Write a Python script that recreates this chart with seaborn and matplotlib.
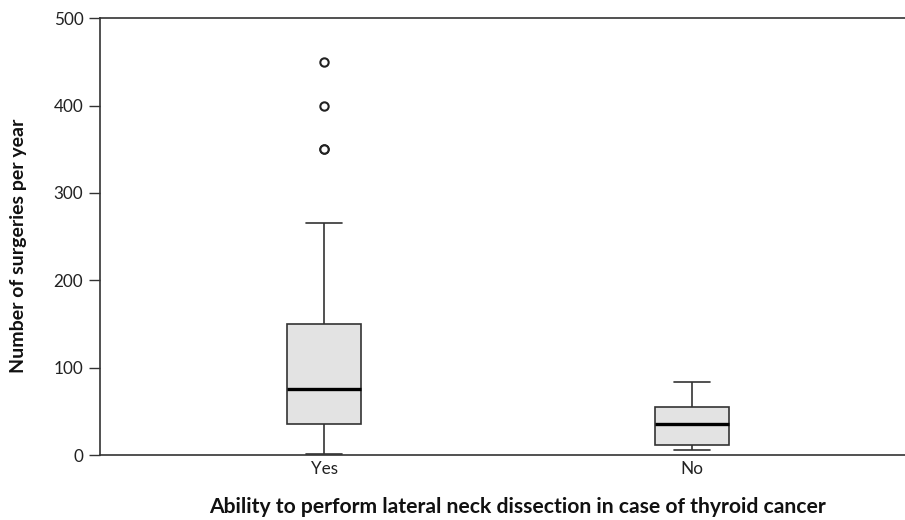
import matplotlib
matplotlib.use("Agg")
import matplotlib.pyplot as plt
import seaborn as sns
import pandas as pd

# Values chosen so that the box statistics match the reference figure
categories = ["Yes", "No"]
yes_values = [1, 8, 15, 22, 30, 35, 45, 50, 60, 70, 75, 80, 90, 100, 120, 150,
              265, 350, 350, 400, 450]
no_values = [6, 8, 12, 20, 35, 45, 55, 70, 84]
y_ticks = [0, 100, 200, 300, 400, 500]

df = pd.DataFrame({
    "group": ["Yes"] * len(yes_values) + ["No"] * len(no_values),
    "value": yes_values + no_values,
})

sns.set_style("ticks")
plt.rcParams["font.family"] = ["Lato", "DejaVu Sans"]

fig = plt.figure(figsize=(9.05, 5.2), dpi=100)
ax = fig.add_axes([0.1105, 0.125, 0.8895, 0.84])

line_c = "#333333"
sns.boxplot(data=df, x="group", y="value", order=categories, ax=ax,
            width=0.2, color="#e3e3e3", saturation=1, linecolor=line_c,
            linewidth=1.2, whis=1.5,
            flierprops=dict(marker="o", markersize=6, markerfacecolor="white",
                            markeredgecolor="#222222", markeredgewidth=1.5),
            medianprops=dict(color="black", linewidth=2.4))

ax.set_xlim(-0.609, 1.579)
ax.set_ylim(0, 500)
ax.set_yticks(y_ticks)
ax.tick_params(axis="both", labelsize=12.3, colors="#333333", labelcolor="#222222",
               length=8, width=1)
ax.tick_params(axis="y", pad=4)
ax.tick_params(axis="x", length=0, pad=4)
for s in ["left", "top", "bottom"]:
    ax.spines[s].set_color(line_c)
    ax.spines[s].set_linewidth(1.2)
    ax.spines[s].set_visible(True)
ax.spines["right"].set_visible(False)

ax.set_ylabel("Number of surgeries per year", fontsize=14, fontweight="bold",
              color="#111111")
ax.yaxis.set_label_coords(-0.091, 0.478)
ax.set_xlabel("Ability to perform lateral neck dissection in case of thyroid cancer",
              fontsize=15.2, fontweight="bold", color="#111111")
ax.xaxis.set_label_coords(0.518, -0.097)

fig.savefig("out.png", dpi=100)
